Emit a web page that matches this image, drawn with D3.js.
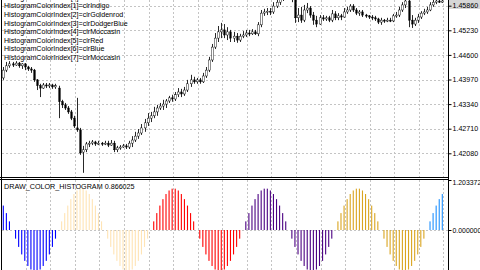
<!DOCTYPE html>
<html><head><meta charset="utf-8">
<script src="https://cdn.jsdelivr.net/npm/d3@7"></script>
<style>
html,body{margin:0;padding:0;background:#fff;overflow:hidden}
svg{display:block}
text{font-family:"Liberation Sans",Arial,sans-serif}
</style>
</head><body>
<svg id="c" width="480" height="270"></svg>
<script>
// ---- candle data (EURUSD-like) ----
const open=[1.4401,1.4421,1.4432,1.4437,1.4434,1.4439,1.4432,1.4437,1.4429,1.4424,
1.4421,1.4396,1.4381,1.4375,1.4383,1.4381,1.4383,1.4378,1.4375,1.4340,
1.4332,1.4324,1.4314,1.4298,1.4273,1.4268,1.4211,1.4217,1.4232,1.4234,
1.4237,1.4232,1.4234,1.4232,1.4234,1.4229,1.4234,1.4217,1.4222,1.4224,
1.4227,1.4224,1.4234,1.4242,1.4252,1.4260,1.4273,1.4286,1.4298,1.4304,
1.4314,1.4324,1.4329,1.4334,1.4342,1.4350,1.4347,1.4358,1.4365,1.4360,
1.4370,1.4386,1.4396,1.4391,1.4396,1.4391,1.4406,1.4421,1.4447,1.4480,
1.4503,1.4519,1.4524,1.4511,1.4519,1.4503,1.4508,1.4498,1.4508,1.4511,
1.4516,1.4514,1.4519,1.4514,1.4537,1.4567,1.4570,1.4572,1.4570,1.4585,
1.4595,1.4606,1.4613,1.4616,1.4608,1.4611,1.4555,1.4562,1.4549,1.4575,
1.4580,1.4562,1.4549,1.4539,1.4555,1.4552,1.4555,1.4549,1.4565,1.4555,
1.4560,1.4557,1.4570,1.4575,1.4585,1.4575,1.4567,1.4570,1.4562,1.4560,
1.4557,1.4555,1.4552,1.4544,1.4549,1.4547,1.4549,1.4547,1.4560,1.4562,
1.4575,1.4588,1.4598,1.4549,1.4539,1.4549,1.4557,1.4567,1.4570,1.4575,
1.4588,1.4595,1.4598,1.4595];
const high=[1.4429,1.4442,1.4444,1.4442,1.4444,1.4442,1.4439,1.4439,1.4432,1.4429,
1.4424,1.4398,1.4386,1.4388,1.4388,1.4388,1.4386,1.4386,1.4381,1.4345,
1.4337,1.4329,1.4319,1.4304,1.4350,1.4273,1.4227,1.4237,1.4240,1.4242,
1.4240,1.4240,1.4237,1.4240,1.4240,1.4242,1.4240,1.4227,1.4229,1.4232,
1.4232,1.4240,1.4252,1.4263,1.4270,1.4283,1.4296,1.4311,1.4314,1.4327,
1.4332,1.4337,1.4345,1.4347,1.4355,1.4358,1.4365,1.4375,1.4373,1.4378,
1.4396,1.4409,1.4404,1.4401,1.4401,1.4414,1.4429,1.4455,1.4488,1.4516,
1.4534,1.4542,1.4539,1.4531,1.4524,1.4519,1.4516,1.4514,1.4521,1.4524,
1.4524,1.4526,1.4524,1.4544,1.4575,1.4578,1.4580,1.4580,1.4595,1.4608,
1.4616,1.4626,1.4631,1.4626,1.4621,1.4616,1.4580,1.4583,1.4588,1.4593,
1.4585,1.4570,1.4560,1.4562,1.4562,1.4560,1.4560,1.4575,1.4572,1.4567,
1.4565,1.4580,1.4583,1.4590,1.4590,1.4580,1.4575,1.4575,1.4565,1.4562,
1.4562,1.4560,1.4555,1.4555,1.4552,1.4555,1.4555,1.4565,1.4570,1.4583,
1.4595,1.4606,1.4603,1.4562,1.4555,1.4565,1.4572,1.4578,1.4583,1.4595,
1.4601,1.4603,1.4603,1.4603];
const low=[1.4396,1.4416,1.4427,1.4429,1.4432,1.4427,1.4424,1.4421,1.4419,1.4414,
1.4391,1.4370,1.4352,1.4373,1.4375,1.4375,1.4373,1.4373,1.4298,1.4324,
1.4319,1.4309,1.4293,1.4273,1.4263,1.4204,1.4158,1.4211,1.4224,1.4229,
1.4227,1.4229,1.4227,1.4229,1.4224,1.4227,1.4211,1.4211,1.4217,1.4222,
1.4219,1.4219,1.4224,1.4237,1.4245,1.4255,1.4263,1.4278,1.4288,1.4298,
1.4304,1.4319,1.4319,1.4324,1.4337,1.4340,1.4342,1.4352,1.4352,1.4355,
1.4365,1.4378,1.4386,1.4386,1.4386,1.4388,1.4401,1.4416,1.4442,1.4475,
1.4493,1.4503,1.4503,1.4498,1.4493,1.4493,1.4491,1.4493,1.4503,1.4506,
1.4508,1.4511,1.4511,1.4508,1.4531,1.4560,1.4562,1.4562,1.4565,1.4580,
1.4588,1.4598,1.4606,1.4601,1.4595,1.4542,1.4544,1.4542,1.4544,1.4567,
1.4555,1.4537,1.4531,1.4537,1.4547,1.4547,1.4544,1.4544,1.4549,1.4549,
1.4549,1.4555,1.4565,1.4570,1.4570,1.4562,1.4560,1.4557,1.4555,1.4552,
1.4549,1.4547,1.4539,1.4537,1.4542,1.4544,1.4544,1.4544,1.4555,1.4557,
1.4570,1.4580,1.4531,1.4529,1.4534,1.4542,1.4552,1.4562,1.4565,1.4572,
1.4583,1.4590,1.4593,1.4593];
const close=[1.4421,1.4432,1.4437,1.4434,1.4439,1.4432,1.4437,1.4429,1.4424,1.4421,
1.4396,1.4381,1.4375,1.4383,1.4381,1.4383,1.4378,1.4381,1.4340,1.4332,
1.4324,1.4314,1.4298,1.4278,1.4268,1.4209,1.4217,1.4232,1.4234,1.4237,
1.4232,1.4234,1.4232,1.4234,1.4229,1.4234,1.4217,1.4222,1.4224,1.4227,
1.4224,1.4234,1.4242,1.4252,1.4260,1.4273,1.4286,1.4298,1.4304,1.4314,
1.4324,1.4329,1.4334,1.4342,1.4350,1.4347,1.4358,1.4365,1.4360,1.4370,
1.4386,1.4396,1.4391,1.4396,1.4391,1.4406,1.4421,1.4447,1.4480,1.4503,
1.4519,1.4524,1.4511,1.4519,1.4503,1.4508,1.4498,1.4508,1.4511,1.4516,
1.4514,1.4519,1.4514,1.4537,1.4567,1.4570,1.4572,1.4570,1.4585,1.4595,
1.4606,1.4613,1.4616,1.4608,1.4611,1.4555,1.4562,1.4549,1.4575,1.4580,
1.4562,1.4549,1.4539,1.4555,1.4552,1.4555,1.4549,1.4565,1.4555,1.4560,
1.4557,1.4570,1.4575,1.4585,1.4575,1.4567,1.4570,1.4562,1.4560,1.4557,
1.4555,1.4552,1.4544,1.4549,1.4547,1.4549,1.4547,1.4560,1.4562,1.4575,
1.4588,1.4598,1.4549,1.4539,1.4549,1.4557,1.4567,1.4570,1.4575,1.4588,
1.4595,1.4598,1.4595,1.4598];

// ---- indicator data ----
const histValues=[
0.588,0.407,0.208,0,-0.208,-0.407,-0.588,-0.743,-0.866,-0.951,-0.995,-0.995,-0.951,-0.866,-0.743,-0.588,-0.407,-0.208,0,0.208,0.407,0.588,0.743,0.866,0.951,0.995,0.995,0.951,0.866,0.743,
0.588,0.407,0.208,0,-0.208,-0.407,-0.588,-0.743,-0.866,-0.951,-0.995,-0.995,-0.951,-0.866,-0.743,-0.588,-0.407,-0.208,0,0.208,0.407,0.588,0.743,0.866,0.951,0.995,0.995,0.951,0.866,0.743,
0.588,0.407,0.208,0,-0.208,-0.407,-0.588,-0.743,-0.866,-0.951,-0.995,-0.995,-0.951,-0.866,-0.743,-0.588,-0.407,-0.208,0,0.208,0.407,0.588,0.743,0.866,0.951,0.995,0.995,0.951,0.866,0.743,
0.588,0.407,0.208,0,-0.208,-0.407,-0.588,-0.743,-0.866,-0.951,-0.995,-0.995,-0.951,-0.866,-0.743,-0.588,-0.407,-0.208,0,0.208,0.407,0.588,0.743,0.866,0.951,0.995,0.995,0.951,0.866,0.743,
0.588,0.407,0.208,0,-0.208,-0.407,-0.588,-0.743,-0.866,-0.951,-0.995,-0.995,-0.951,-0.866,-0.743,-0.588,-0.407,-0.208,0,0.208,0.407,0.588,0.743,0.866];
const histColorIdx=[
6,6,6,6,6,6,6,6,6,6,6,6,6,6,6,6,6,6,
7,7,7,7,7,7,7,7,7,7,7,7,7,7,7,7,7,7,7,7,7,7,7,7,7,7,7,7,7,7,
0,0,0,0,0,0,0,0,0,0,0,0,0,0,0,0,0,0,0,0,0,0,0,0,0,0,0,0,0,0,
1,1,1,1,1,1,1,1,1,1,1,1,1,1,1,1,1,1,1,1,1,1,1,1,1,1,1,1,1,1,
2,2,2,2,2,2,2,2,2,2,2,2,2,2,2,2,2,2,2,2,2,2,2,2,2,2,2,2,2,2,
3,3,3,3,3,3];
const colorNames=["clrRed","clrIndigo","clrGoldenrod","clrDodgerBlue","clrMoccasin","clrRed","clrBlue","clrMoccasin"];
const colorHex={clrRed:"#FF0000",clrIndigo:"#4B0082",clrGoldenrod:"#DAA520",clrDodgerBlue:"#1E90FF",clrMoccasin:"#FFE4B5",clrBlue:"#0000FF"};
const priceTicks=[1.45860,1.45230,1.44600,1.43970,1.43340,1.42710,1.42080];
const histTicks=[1.203372,0];
const histTitle="DRAW_COLOR_HISTOGRAM 0.866025";

const svg=d3.select("#c");
const W=480,H=270,axisX=448;
const mainTop=0,mainBot=177,subTop=180,subBot=270;
const n=close.length;
const x=d3.scaleLinear().domain([0,n-1]).range([3.3,442.3]);
const y=d3.scaleLinear().domain([1.42080,1.45860]).range([153.3,5.7]);
const yh=d3.scaleLinear().domain([0,1.203372]).range([230,180]);

svg.append("rect").attr("width",W).attr("height",H).attr("fill","#fff");

const defs=svg.append("defs");
defs.append("clipPath").attr("id","cm").append("rect").attr("x",2).attr("y",mainTop).attr("width",axisX-2).attr("height",mainBot-mainTop);
defs.append("clipPath").attr("id","cs").append("rect").attr("x",2).attr("y",subTop).attr("width",axisX-2).attr("height",subBot-subTop);

const gridCol="#c4c4c4";
const gridBars=d3.range(7,n,8);
// main grid
const gm=svg.append("g");
gm.selectAll("line.h").data(priceTicks).join("line")
 .attr("x1",2).attr("x2",axisX).attr("y1",d=>Math.round(y(d))+0.5).attr("y2",d=>Math.round(y(d))+0.5)
 .attr("stroke",gridCol).attr("stroke-dasharray","2,2");
gm.selectAll("line.v").data(gridBars).join("line")
 .attr("x1",d=>Math.round(x(d))+1.5).attr("x2",d=>Math.round(x(d))+1.5).attr("y1",mainTop).attr("y2",mainBot)
 .attr("stroke",gridCol).attr("stroke-dasharray","2,2");
// sub grid
const gs=svg.append("g");
gs.selectAll("line.v").data(gridBars).join("line")
 .attr("x1",d=>Math.round(x(d))+1.5).attr("x2",d=>Math.round(x(d))+1.5).attr("y1",subTop).attr("y2",subBot)
 .attr("stroke",gridCol).attr("stroke-dasharray","2,2");
gs.append("line").attr("x1",2).attr("x2",axisX).attr("y1",Math.round(yh(0))+0.5).attr("y2",Math.round(yh(0))+0.5)
 .attr("stroke",gridCol).attr("stroke-dasharray","2,2");

// candles
const cg=svg.append("g").attr("clip-path","url(#cm)");
const idx=d3.range(n);
cg.selectAll("line.w").data(idx).join("line")
 .attr("x1",i=>Math.round(x(i))+0.5).attr("x2",i=>Math.round(x(i))+0.5)
 .attr("y1",i=>y(high[i])).attr("y2",i=>y(low[i]))
 .attr("stroke","#111").attr("stroke-width",0.9);
cg.selectAll("rect.b").data(idx).join("rect")
 .attr("x",i=>Math.round(x(i))-0.3).attr("width",1.6)
 .attr("y",i=>Math.min(y(open[i]),y(close[i])))
 .attr("height",i=>Math.max(1,Math.abs(y(open[i])-y(close[i]))))
 .attr("fill",i=>close[i]>=open[i]?"#fff":"#000")
 .attr("stroke","#000").attr("stroke-width",0.45);

// histogram
const hg=svg.append("g").attr("clip-path","url(#cs)");
hg.selectAll("rect").data(idx).join("rect")
 .attr("x",i=>x(i)-0.55).attr("width",1.1)
 .attr("y",i=>Math.min(yh(histValues[i]),yh(0)))
 .attr("height",i=>Math.abs(yh(histValues[i])-yh(0)))
 .attr("fill",i=>colorHex[colorNames[histColorIdx[i]]]);

// frames
svg.append("line").attr("x1",0).attr("x2",axisX).attr("y1",mainBot+0.5).attr("y2",mainBot+0.5).attr("stroke","#000");
svg.append("line").attr("x1",0).attr("x2",axisX).attr("y1",subTop-0.5).attr("y2",subTop-0.5).attr("stroke","#000");
svg.append("line").attr("x1",axisX+0.5).attr("x2",axisX+0.5).attr("y1",0).attr("y2",H).attr("stroke","#000");
svg.append("line").attr("x1",1.5).attr("x2",1.5).attr("y1",0).attr("y2",H).attr("stroke","#000");

// axes
const fmt5=d3.format(".5f"), fmt6=d3.format(".6f");
svg.append("rect").attr("x",axisX+1).attr("y",0).attr("width",31).attr("height",9).attr("fill","#d6d6d6");
const ax=svg.append("g").attr("transform",`translate(${axisX+0.5},0)`)
 .call(d3.axisRight(y).tickValues(priceTicks).tickFormat(fmt5).tickSize(3).tickPadding(1));
const ax2=svg.append("g").attr("transform",`translate(${axisX+0.5},0)`)
 .call(d3.axisRight(yh).tickValues(histTicks).tickFormat(fmt6).tickSize(3).tickPadding(1));
[ax,ax2].forEach(a=>{
 a.select(".domain").remove();
 a.selectAll("line").attr("stroke","#000");
 a.selectAll("text").attr("font-size","7.1px").attr("fill","#000").attr("font-family","Liberation Sans, Arial, sans-serif");
});
ax2.selectAll(".tick").filter(d=>d>0).select("text").attr("dy","0.62em").attr("font-size","6.9px");
ax2.selectAll(".tick").filter(d=>d===0).select("text").attr("font-size","6.9px");

// legend comment
const lg=svg.append("g");
lg.selectAll("text").data(colorNames).join("text")
 .attr("x",4).attr("y",(d,i)=>-2.6+i*8.6).attr("dy","0.35em")
 .attr("font-size","7.1px").attr("fill","#000")
 .text((d,i)=>`HistogramColorIndex[${i}]=${d}`);

svg.append("text").attr("x",4).attr("y",186.7).attr("dy","0.35em")
 .attr("font-size","7.2px").attr("fill","#000").text(histTitle);
</script>
</body></html>
